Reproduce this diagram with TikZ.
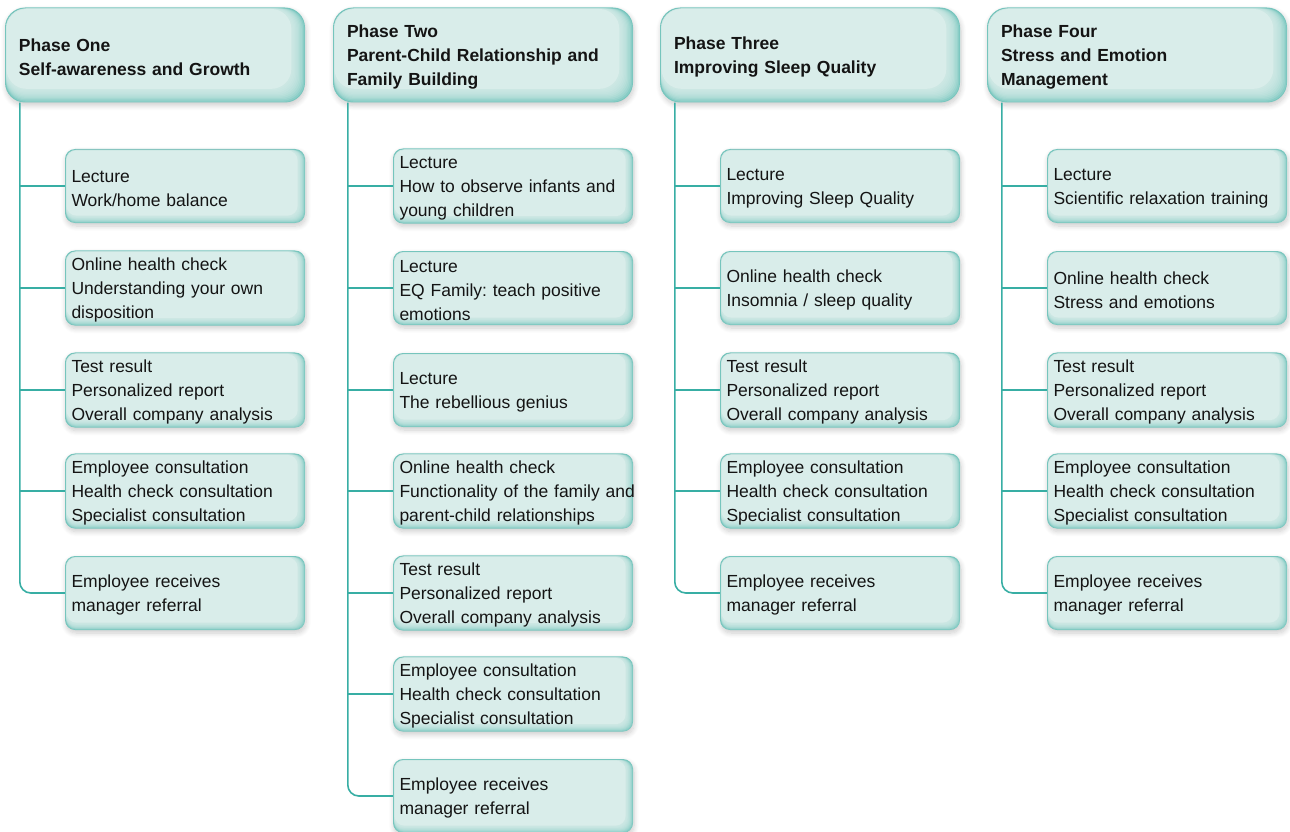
\documentclass[tikz,border=0pt]{standalone}
\usepackage{fontspec}
\setmainfont{Liberation Sans}
\frenchspacing
\usetikzlibrary{shadows.blur}

\definecolor{boxlight}{HTML}{D9EDEA}
\definecolor{boxedge}{HTML}{76C5BD}
\definecolor{linkteal}{HTML}{38AEA4}
\definecolor{ink}{HTML}{141414}

\tikzset{
  % rounded box with a soft darker rim along the bottom and right edges
  bevel/.style 2 args={rounded corners=#1, fill=boxedge,
    blur shadow={shadow xshift=1pt, shadow yshift=-3pt, shadow blur radius=5pt,
                 shadow blur steps=8, shadow opacity=20},
    path picture={
      \foreach \f in {0.05,0.15,0.25,0.35,0.45,0.55,0.65,0.75,0.85,0.95}{
        \fill[boxlight, opacity=0.2, rounded corners=#1]
          ([xshift=1pt,yshift=-1pt]path picture bounding box.north west)
          rectangle ([xshift=-\f*#2,yshift=\f*#2]path picture bounding box.south east);
      }
      \fill[boxlight, rounded corners=#1]
        ([xshift=1.5pt,yshift=-1.5pt]path picture bounding box.north west)
        rectangle ([xshift=-1.05*#2,yshift=1.05*#2]path picture bounding box.south east);
    }},
  phase/.style={bevel={20pt}{13pt}, minimum width=300pt, minimum height=95pt,
    text width=272pt, inner xsep=14pt, align=left, text=ink,
    font=\fontsize{17.5}{24}\selectfont\bfseries, execute at begin node=\strut},
  item/.style={bevel={10pt}{7pt}, minimum width=240pt, minimum height=74pt,
    text width=227pt, inner xsep=6.5pt, align=left, text=ink,
    font=\fontsize{17.5}{24}\selectfont, execute at begin node=\strut},
  link/.style={draw=linkteal, line width=1.6pt},
}

\begin{document}
\begin{tikzpicture}[x=1pt, y=-1pt]
\useasboundingbox (0,0) rectangle (1290,832);

% phase headers
\node[phase] (h1) at (155,55)  {Phase One\\Self-awareness and Growth};
\node[phase] (h2) at (483,55)  {Phase Two\\Parent-Child Relationship and\\Family Building};
\node[phase] (h3) at (810,55)  {Phase Three\\Improving Sleep Quality};
\node[phase] (h4) at (1137,55) {Phase Four\\Stress and Emotion\\Management};

% phase one
\node[item] (c11) at (185,186) {Lecture\\Work/home balance};
\node[item] (c12) at (185,288) {Online health check\\Understanding your own\\disposition};
\node[item] (c13) at (185,390) {Test result\\Personalized report\\Overall company analysis};
\node[item] (c14) at (185,491) {Employee consultation\\Health check consultation\\Specialist consultation};
\node[item] (c15) at (185,593) {Employee receives\\manager referral};

% phase two
\node[item] (c21) at (513,186) {Lecture\\How to observe infants and\\young children};
\node[item] (c22) at (513,288) {Lecture\\EQ Family: teach positive\\emotions};
\node[item] (c23) at (513,390) {Lecture\\The rebellious genius};
\node[item] (c24) at (513,491) {Online health check\\\mbox{Functionality of the family and}\\parent-child relationships};
\node[item] (c25) at (513,593) {Test result\\Personalized report\\Overall company analysis};
\node[item] (c26) at (513,694) {Employee consultation\\Health check consultation\\Specialist consultation};
\node[item] (c27) at (513,796) {Employee receives\\manager referral};

% phase three
\node[item] (c31) at (840,186) {Lecture\\Improving Sleep Quality};
\node[item] (c32) at (840,288) {Online health check\\Insomnia / sleep quality};
\node[item] (c33) at (840,390) {Test result\\Personalized report\\Overall company analysis};
\node[item] (c34) at (840,491) {Employee consultation\\Health check consultation\\Specialist consultation};
\node[item] (c35) at (840,593) {Employee receives\\manager referral};

% phase four
\node[item] (c41) at (1167,186) {Lecture\\Scientific relaxation training};
\node[item] (c42) at (1167,288) {Online health check\\Stress and emotions};
\node[item] (c43) at (1167,390) {Test result\\Personalized report\\Overall company analysis};
\node[item] (c44) at (1167,491) {Employee consultation\\Health check consultation\\Specialist consultation};
\node[item] (c45) at (1167,593) {Employee receives\\manager referral};

% trunks (ending in a rounded elbow) and branches
\foreach \p/\last/\prev in {1/5/4, 2/7/6, 3/5/4, 4/5/4}{
  \coordinate (v\p) at ([xshift=15pt]h\p.south west);
  \draw[link, rounded corners=11pt] (v\p) |- (c\p\last.west);
  \foreach \k in {1,...,\prev}{
    \draw[link] (c\p\k.west -| v\p) -- (c\p\k.west);
  }
}
\end{tikzpicture}
\end{document}
